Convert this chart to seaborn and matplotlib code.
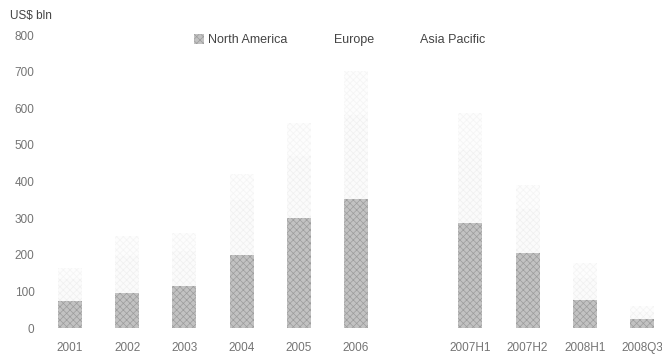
import matplotlib
matplotlib.use("Agg")
import matplotlib.pyplot as plt
from matplotlib.patches import Patch
import numpy as np
import pandas as pd
import seaborn as sns

categories = ["2001", "2002", "2003", "2004", "2005", "2006",
              "2007H1", "2007H2", "2008H1", "2008Q3"]
north_america = [75, 97, 115, 200, 300, 352, 287, 205, 77, 25]
europe = [60, 100, 95, 150, 170, 230, 200, 120, 60, 20]
asia_pacific = [30, 55, 50, 70, 90, 120, 100, 65, 40, 15]
series_names = ["North America", "Europe", "Asia Pacific"]
yticks = [0, 100, 200, 300, 400, 500, 600, 700, 800]

# spacer slot between 2006 and the half-year periods
order = categories[:6] + [" "] + categories[6:]

sns.set_theme(style="white")
plt.rcParams["font.family"] = ["Liberation Sans", "DejaVu Sans"]
plt.rcParams["hatch.linewidth"] = 0.5

df = pd.DataFrame({
    "period": categories,
    "na": north_america,
    "eu": europe,
    "ap": asia_pacific,
})
df["na_eu"] = df["na"] + df["eu"]
df["total"] = df["na_eu"] + df["ap"]

fig = plt.figure(figsize=(6.62, 3.55), dpi=100)
ax = fig.add_axes([0.0625, 0.076, 0.9375, 0.825])

colors = {"ap": "#fdfdfd", "eu": "#fbfbfb", "na": "#c2c2c2"}
hatch_cols = {"ap": "#f4f4f4", "eu": "#f0f0f0", "na": "#9c9c9c"}
for col, key in [("total", "ap"), ("na_eu", "eu"), ("na", "na")]:
    n_before = len(ax.patches)
    sns.barplot(data=df, x="period", y=col, order=order, ax=ax,
                color=colors[key], width=0.42, saturation=1,
                linewidth=0, errorbar=None)
    for p in ax.patches[n_before:]:
        p.set_hatch("xxxxx")
        p.set_edgecolor(hatch_cols[key])
        p.set_linewidth(0)

ax.set_xlim(-0.5, 10.35)
ax.set_ylim(0, 800)
ax.set_yticks(yticks)
ax.set_yticklabels([str(t) for t in yticks])
ax.set_xlabel("")
ax.set_ylabel("")
for s in ax.spines.values():
    s.set_visible(False)
ax.tick_params(axis="both", length=0, labelsize=8.5, colors="#747474")
ax.tick_params(axis="x", pad=10)
ax.tick_params(axis="y", pad=5)
ax.grid(False)

fig.text(10 / 662, 1 - 16 / 355, "US$ bln", fontsize=8.5, color="#444444",
         va="center", ha="left")

handles = [
    Patch(facecolor=colors["na"], edgecolor=hatch_cols["na"], hatch="xxxxx", linewidth=0),
    Patch(facecolor="white", edgecolor="white", linewidth=0),
    Patch(facecolor="white", edgecolor="white", linewidth=0),
]
fig.legend(handles, series_names, loc="center left",
           bbox_to_anchor=(183 / 662, 1 - 40 / 355), ncol=3, frameon=False,
           fontsize=9, handlelength=0.8, handleheight=0.8, handletextpad=0.3,
           columnspacing=2.6, labelcolor="#444444")

fig.savefig("out.png", dpi=100)
